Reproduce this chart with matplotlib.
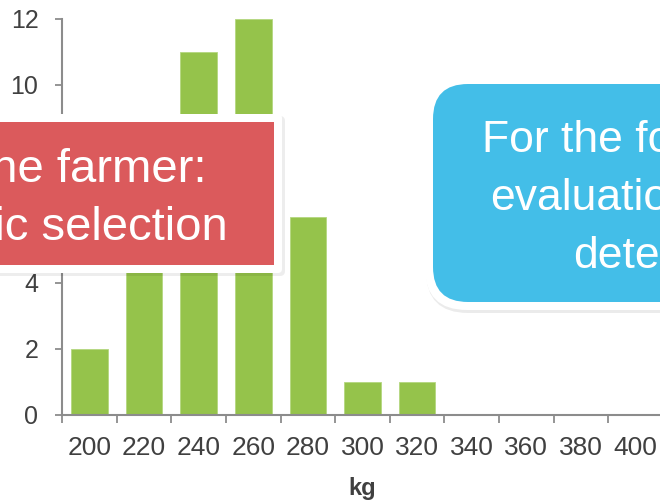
import matplotlib
matplotlib.use("Agg")
import matplotlib.pyplot as plt
import matplotlib.transforms as mtransforms
from matplotlib.patches import FancyBboxPatch
from matplotlib.ticker import FixedLocator, NullFormatter

plt.rcParams['font.family'] = ['Liberation Sans', 'DejaVu Sans']

# histogram of weights
bins = [200, 220, 240, 260, 280, 300, 320, 340, 360, 380, 400]
counts = [2, 7, 11, 12, 6, 1, 1, 0, 0, 0, 0]
y_ticks = [0, 2, 4, 6, 8, 10, 12]
x_label = 'kg'

red_lines = ['Selection by the farmer:', 'phenotypic selection']
blue_lines = ['For the formal', 'evaluation', 'determined']

W, H = 660, 501
fig = plt.figure(figsize=(W / 100, H / 100), dpi=100)
ax = fig.add_axes([62 / W, 86 / H, (663 - 62) / W, 396 / H])

green = '#95c34b'
grey = '#8c8c8c'
txt = '#404040'

ax.bar(bins, counts, width=13.4, color=green, edgecolor='#b4d77f', linewidth=0.6, zorder=2)
ax.set_xlim(190, 410)
ax.set_ylim(0, 12)

ax.xaxis.set_major_locator(FixedLocator([b - 10 for b in bins] + [410]))
ax.xaxis.set_major_formatter(NullFormatter())
ax.xaxis.set_minor_locator(FixedLocator(bins))
ax.set_xticklabels([str(b) for b in bins], minor=True)
ax.tick_params(axis='x', which='major', length=6, width=1.3, color=grey)
ax.tick_params(axis='x', which='minor', length=0, pad=15, labelsize=19, labelcolor=txt)
ax.set_yticks(y_ticks)
ax.tick_params(axis='y', length=5, width=1.3, color=grey, pad=12, labelsize=18, labelcolor=txt)

for s in ['top', 'right']:
    ax.spines[s].set_visible(False)
for s in ['left', 'bottom']:
    ax.spines[s].set_color(grey)
    ax.spines[s].set_linewidth(1.5)

ax.set_xlabel(x_label, fontsize=17, fontweight='bold', color=txt, labelpad=12)

# pixel coords with origin at top-left
T = mtransforms.Affine2D().scale(1 / W, -1 / H).translate(0, 1) + fig.transFigure


def box(x0, y0, x1, y1, color, r, z, alpha=1.0):
    p = FancyBboxPatch((x0, y0), x1 - x0, y1 - y0,
                       boxstyle=f'round,pad=0,rounding_size={r}',
                       transform=T, facecolor=color, edgecolor='none',
                       zorder=z, alpha=alpha)
    fig.add_artist(p)


# red callout
box(-300, 116, 285, 276, '#000000', 5, 4, 0.07)
box(-300, 114, 282, 273, 'white', 4, 5)
box(-300, 122, 274, 265, '#db5a5c', 0.1, 6)
fig.text(207, 182, red_lines[0], transform=T, ha='right', va='baseline',
         fontsize=34, color='white', zorder=7)
fig.text(228, 240, red_lines[1], transform=T, ha='right', va='baseline',
         fontsize=34, color='white', zorder=7)

# blue callout
box(426, 78, 720, 313, '#000000', 42, 4, 0.08)
box(425, 76, 720, 310, 'white', 42, 5)
box(433, 84, 720, 302, '#43bee8', 35, 6)
for (x, yb), s in zip([(482, 152), (490, 210), (573, 268)], blue_lines):
    fig.text(x, yb, s, transform=T, ha='left', va='baseline',
             fontsize=32, color='white', zorder=7)

fig.savefig('out.png', dpi=100)
